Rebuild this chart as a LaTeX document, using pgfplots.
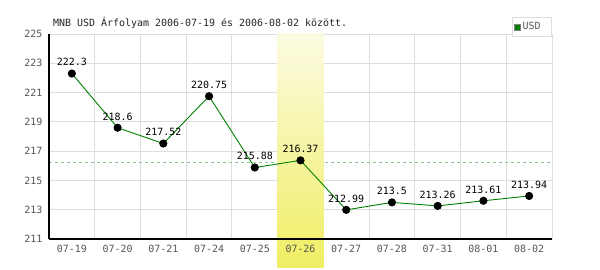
\documentclass[border=0pt]{standalone}
\usepackage{pgfplots}
\usepackage{pgfplotstable}
\pgfplotsset{compat=1.18}
\usepackage{fontspec}
\setmainfont{DejaVu Sans Mono}
\setmonofont{DejaVu Sans Mono}
\definecolor{linegreen}{HTML}{008000}
\definecolor{gridgray}{HTML}{DDDDDD}
\definecolor{ticklab}{HTML}{555555}
\definecolor{hltop}{HTML}{FBFBE2}
\definecolor{hlbot}{HTML}{F0EE62}
\definecolor{avggreen}{HTML}{88CC88}
\pgfplotstableread{
x y lab
0 222.30 222.3
1 218.60 218.6
2 217.52 217.52
3 220.75 220.75
4 215.88 215.88
5 216.37 216.37
6 212.99 212.99
7 213.50 213.5
8 213.26 213.26
9 213.61 213.61
10 213.94 213.94
}\usddata
\begin{document}
\begin{tikzpicture}
\begin{axis}[
  axis on top,
  at={(0,0)}, anchor=south west,
  scale only axis, width=503bp, height=205bp,
  xmin=-0.5, xmax=10.5, ymin=211, ymax=225,
  xtick={0,...,10},
  xticklabels={07-19,07-20,07-21,07-24,07-25,07-26,07-27,07-28,07-31,08-01,08-02},
  ytick={211,213,...,225},
  yticklabels={211,213,215,217,219,221,223,225},
  major tick length=0pt, minor tick length=0pt,
  axis x line*=bottom, axis y line*=left,
  axis line style={black, line width=1.3bp, -},
  tick label style={font=\fontsize{10}{12}\selectfont, text=ticklab},
  yticklabel style={xshift=-3bp},
  xticklabel style={yshift=-3bp},
  clip=false,
  legend style={at={(1,1.083)}, anchor=north east, draw=gridgray, line width=0.9bp,
    font=\fontsize{10}{12}\selectfont, text=ticklab, inner xsep=2bp, inner ysep=3bp,
    legend cell align=left},
]
\pgfplotsinvokeforeach{213,215,...,225}{
  \draw[gridgray, line width=0.9bp] (axis cs:-0.5,#1) -- (axis cs:10.5,#1);
}
\pgfplotsinvokeforeach{0.5,1.5,...,10.5}{
  \draw[gridgray, line width=0.9bp] (axis cs:#1,211) -- (axis cs:#1,225);
}
\addplot[avggreen, dash pattern=on 3bp off 3bp, line width=0.8bp, forget plot] coordinates {(-0.5,216.25) (10.5,216.25)};
\fill[top color=hltop, bottom color=hlbot] (axis cs:4.5,209.02) rectangle (axis cs:5.5,225);
\addplot[linegreen, line width=0.9bp, mark=*, mark size=3.6bp,
  mark options={fill=black, draw=black},
  point meta=explicit symbolic,
  nodes near coords,
  every node near coord/.append style={anchor=south, yshift=6bp, inner sep=1bp, text=black, font=\fontsize{10}{12}\selectfont},
  forget plot] table[x=x, y=y, meta=lab] {\usddata};
\addlegendimage{legend image code/.code={\draw[fill=linegreen, draw=gray, line width=0.6bp] (0bp,-3bp) rectangle (6bp,3bp);}}
\addlegendentry{USD\hspace*{7bp}}
\end{axis}
\node[anchor=base west, inner sep=0pt, text=black!85, font=\fontsize{10}{12}\selectfont] at (4bp,212.5bp) {MNB USD Árfolyam 2006-07-19 és 2006-08-02 között.};
\pgfresetboundingbox
\useasboundingbox (-49bp,-31bp) rectangle (551bp,239bp);
\end{tikzpicture}
\end{document}
